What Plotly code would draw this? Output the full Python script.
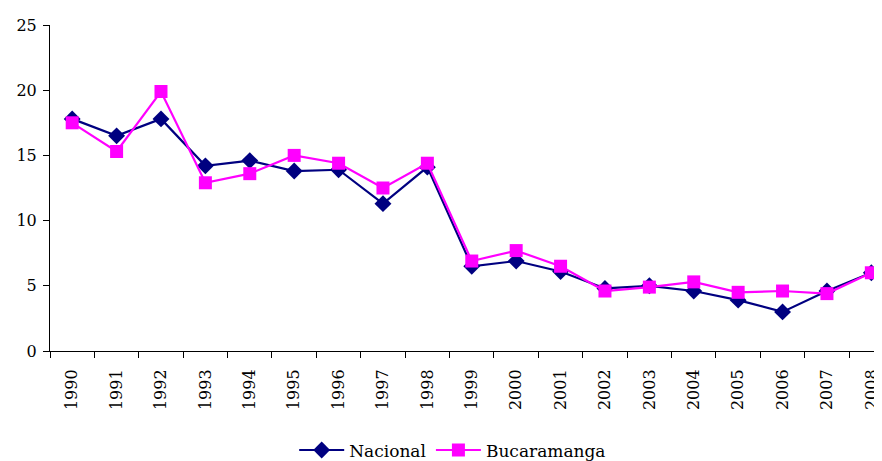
import plotly.graph_objects as go

years = [str(y) for y in range(1990, 2009)]
nacional = [17.8, 16.5, 17.8, 14.2, 14.6, 13.8, 13.9, 11.3, 14.1, 6.5, 6.9, 6.1, 4.8, 5.0, 4.6, 3.9, 3.0, 4.6, 6.0]
bucaramanga = [17.5, 15.3, 19.9, 12.9, 13.6, 15.0, 14.4, 12.5, 14.4, 6.9, 7.7, 6.5, 4.6, 4.9, 5.3, 4.5, 4.6, 4.4, 6.0]
y_ticks = [0, 5, 10, 15, 20, 25]

font = "DejaVu Serif"

fig = go.Figure()
fig.add_trace(go.Scatter(
    x=years, y=nacional, name="Nacional", mode="lines+markers",
    line=dict(color="#000080", width=2.2),
    marker=dict(symbol="diamond", size=13, color="#000080"),
))
fig.add_trace(go.Scatter(
    x=years, y=bucaramanga, name="Bucaramanga", mode="lines+markers",
    line=dict(color="#FF00FF", width=2.2),
    marker=dict(symbol="square", size=13, color="#FF00FF"),
))

# page body has an 8px default margin, so the figure is offset by 8px
fig.update_layout(
    width=874, height=461,
    margin=dict(l=42, r=0, t=17, b=118),
    plot_bgcolor="white", paper_bgcolor="white",
    font=dict(family=font, size=16, color="#000000"),
    showlegend=True,
    legend=dict(orientation="h", x=0.484, xanchor="center", y=-0.305, yanchor="middle",
                font=dict(family=font, size=17), itemwidth=45, tracegroupgap=0),
    xaxis=dict(
        type="category", range=[-0.5, 18.24], automargin=False,
        showline=True, linecolor="black", linewidth=1,
        ticks="outside", tickson="boundaries", ticklen=6, tickcolor="black",
        tickangle=-90, showgrid=False, zeroline=False, ticklabelstandoff=11,
        tickfont=dict(family=font, size=16),
    ),
    yaxis=dict(
        range=[0, 25], tickvals=y_ticks, automargin=False,
        showline=True, linecolor="black", linewidth=1,
        ticks="outside", ticklen=6, tickcolor="black", ticklabelstandoff=3,
        showgrid=False, zeroline=False,
        tickfont=dict(family=font, size=16),
    ),
)

fig.write_html("out.html")
